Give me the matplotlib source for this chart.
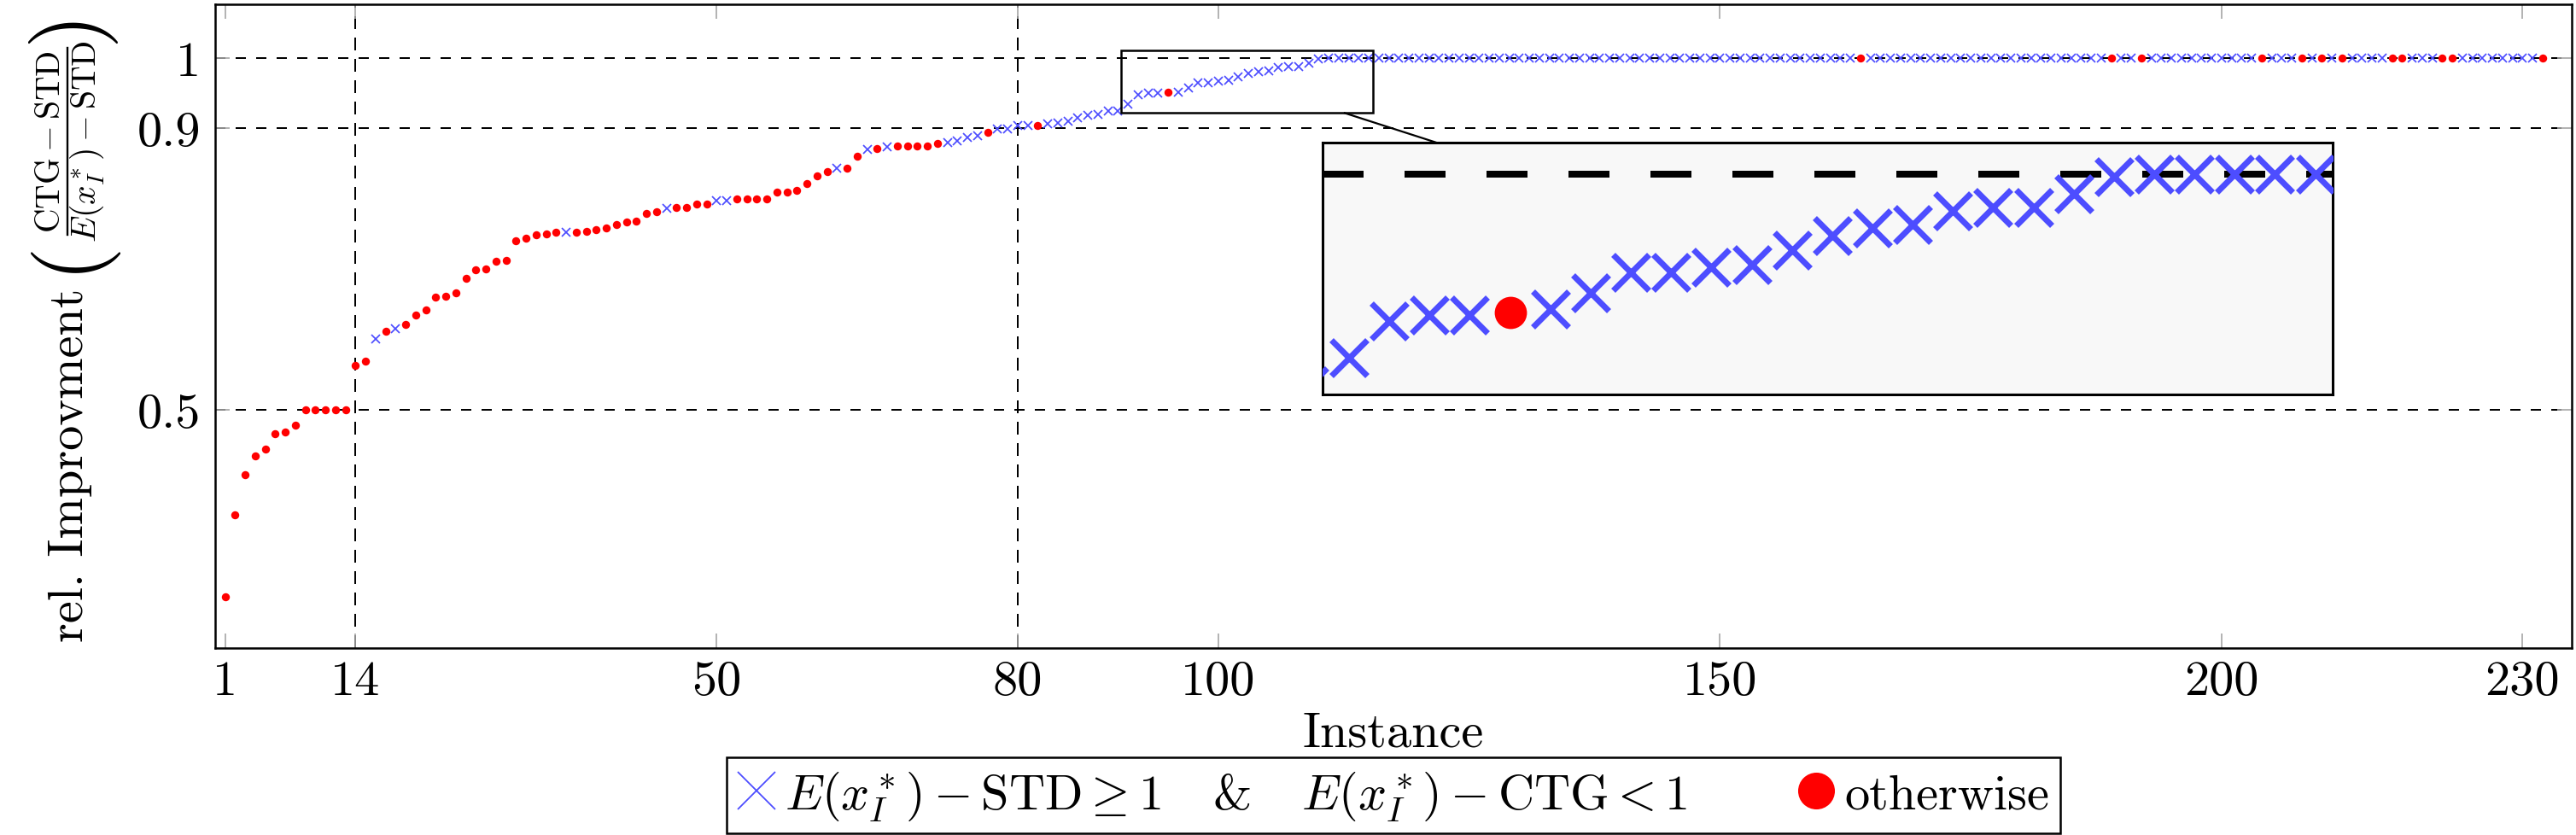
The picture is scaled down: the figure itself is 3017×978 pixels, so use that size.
import numpy as np
import matplotlib
matplotlib.use("Agg")
import matplotlib.pyplot as plt
from matplotlib.lines import Line2D
from matplotlib.patches import Rectangle

plt.rcParams['font.family'] = 'serif'
plt.rcParams['font.serif'] = ['cmr10']
plt.rcParams['mathtext.fontset'] = 'cm'
plt.rcParams['axes.formatter.use_mathtext'] = True
plt.rcParams['axes.unicode_minus'] = False

# ---------------- data ----------------
instance = np.arange(1, 233)

rel_improvement = [
    0.234, 0.350, 0.408, 0.434, 0.444, 0.466, 0.468, 0.478, 0.500, 0.500,
    0.500, 0.500, 0.500, 0.563, 0.569, 0.600, 0.612, 0.615, 0.621, 0.635,
    0.642, 0.660, 0.661, 0.666, 0.687, 0.699, 0.700, 0.711, 0.712, 0.740,
    0.744, 0.749, 0.750, 0.752, 0.752, 0.752, 0.754, 0.756, 0.759, 0.763,
    0.767, 0.768, 0.779, 0.782, 0.786, 0.787, 0.787, 0.792, 0.793, 0.797,
    0.797, 0.800, 0.800, 0.800, 0.800, 0.809, 0.810, 0.812, 0.822, 0.833,
    0.838, 0.843, 0.843, 0.861, 0.870, 0.871, 0.874, 0.875, 0.875, 0.875,
    0.875, 0.879, 0.880, 0.882, 0.887, 0.889, 0.895, 0.899, 0.899, 0.904,
    0.904, 0.904, 0.906, 0.908, 0.910, 0.915, 0.919, 0.920, 0.925, 0.925,
    0.935, 0.948, 0.950, 0.950, 0.951, 0.952, 0.958, 0.965, 0.965, 0.967,
    0.968, 0.973, 0.978, 0.981, 0.982, 0.987, 0.988, 0.988, 0.993, 0.999,
    1.0, 1.0, 1.0, 1.0, 1.0, 1.0, 1.0, 1.0, 1.0, 1.0,
    1.0, 1.0, 1.0, 1.0, 1.0, 1.0, 1.0, 1.0, 1.0, 1.0,
    1.0, 1.0, 1.0, 1.0, 1.0, 1.0, 1.0, 1.0, 1.0, 1.0,
    1.0, 1.0, 1.0, 1.0, 1.0, 1.0, 1.0, 1.0, 1.0, 1.0,
    1.0, 1.0, 1.0, 1.0, 1.0, 1.0, 1.0, 1.0, 1.0, 1.0,
    1.0, 1.0, 1.0, 1.0, 1.0, 1.0, 1.0, 1.0, 1.0, 1.0,
    1.0, 1.0, 1.0, 1.0, 1.0, 1.0, 1.0, 1.0, 1.0, 1.0,
    1.0, 1.0, 1.0, 1.0, 1.0, 1.0, 1.0, 1.0, 1.0, 1.0,
    1.0, 1.0, 1.0, 1.0, 1.0, 1.0, 1.0, 1.0, 1.0, 1.0,
    1.0, 1.0, 1.0, 1.0, 1.0, 1.0, 1.0, 1.0, 1.0, 1.0,
    1.0, 1.0, 1.0, 1.0, 1.0, 1.0, 1.0, 1.0, 1.0, 1.0,
    1.0, 1.0, 1.0, 1.0, 1.0, 1.0, 1.0, 1.0, 1.0, 1.0,
    1.0, 1.0,
]

# instances that are NOT in the "E-STD>=1 & E-CTG<1" class (red dots)
otherwise_instances = [
    1, 2, 3, 4, 5, 6, 7, 8, 9, 10, 11, 12, 13, 14, 15, 17, 19, 20, 21, 22,
    23, 24, 25, 26, 27, 28, 29, 30, 31, 32, 33, 34, 36, 37, 38, 39, 40, 41,
    42, 43, 44, 46, 47, 48, 49, 52, 53, 54, 55, 56, 57, 58, 59, 60, 61, 63,
    64, 66, 68, 69, 70, 71, 72, 77, 82, 95, 164, 189, 192, 204, 208, 210,
    212, 217, 218, 222, 223, 232,
]

x_ticks = [1, 14, 50, 80, 100, 150, 200, 230]
y_ticks = [0.5, 0.9, 1.0]
y_tick_labels = ['0.5', '0.9', '1']
h_ref_lines = [0.5, 0.9, 1.0]
v_ref_lines = [14, 80]

label_cond = (r'$E(x_I^*)-\mathrm{STD}\geq 1$   &   '
              r'$E(x_I^*)-\mathrm{CTG}<1$')
label_other = 'otherwise'
ylabel_text = 'rel. Improvment'
ylabel_num = r'$\mathrm{CTG}-\mathrm{STD}$'
ylabel_den = r'$E(x_I^*)-\mathrm{STD}$'

# ---------------- style ----------------
BLUE = '#4d4dff'
RED = '#ff0000'
FS = 42
W, H = 3017, 979

vals = np.array(rel_improvement)
is_other = np.isin(instance, otherwise_instances)

fig = plt.figure(figsize=(W / 100, H / 100), dpi=100)
ax = fig.add_axes([0.0835, 0.2237, 0.9148, 0.7702])

XLIM = (0.0, 234.9)
YLIM = (0.161, 1.0766)


def px(x, y):
    """figure-fraction coordinates from pixel position (origin top-left)"""
    return x / W, 1 - y / H


def draw_content(a, scale=1.0):
    for y in h_ref_lines:
        a.axhline(y, color='black', lw=1.44 * scale, ls=(0, (6, 6)), zorder=1)
    for x in v_ref_lines:
        a.axvline(x, color='black', lw=1.44 * scale, ls=(0, (7.5, 5)), zorder=1)
    a.plot(instance[~is_other], vals[~is_other], ls='none', marker='x',
           ms=7.5 * scale, mew=1.25 * scale, color=BLUE, zorder=3,
           label=label_cond)
    a.plot(instance[is_other], vals[is_other], ls='none', marker='o',
           ms=6.8 * scale, mew=0, color=RED, zorder=3, label=label_other)


draw_content(ax)
ax.set_xlim(*XLIM)
ax.set_ylim(*YLIM)
ax.set_xticks(x_ticks)
ax.set_xticklabels([str(t) for t in x_ticks])
ax.set_yticks(y_ticks)
ax.set_yticklabels(y_tick_labels)
ax.tick_params(direction='in', length=12, width=1.2, color='0.65',
               top=True, right=True, labelsize=FS, pad=10)
ax.tick_params(axis='y', pad=12)
for s in ax.spines.values():
    s.set_linewidth(1.8)

ax.set_xlabel('Instance', fontsize=FS)
ax.xaxis.set_label_coords(0.5, -0.098)
ax.xaxis.label.set_va('top')

# ---- y label, composed of pieces (rotated, reading bottom to top) ----
rot = dict(rotation=90, rotation_mode='anchor')
fig.text(*px(97, 752), ylabel_text, fontsize=FS, ha='left', va='baseline',
         **rot)
FS_FRAC = FS * 0.68
fig.text(*px(70, 166), ylabel_num, fontsize=FS_FRAC, ha='center',
         va='baseline', **rot)
fig.text(*px(112, 166), ylabel_den, fontsize=FS_FRAC, ha='center',
         va='baseline', **rot)
bx0, by0 = px(79, 57)
bx1, by1 = px(79, 276)
fig.add_artist(Line2D([bx0, bx1], [by0, by1], color='black', lw=1.7,
                      transform=fig.transFigure))
FS_PAREN = 75
fig.text(*px(106, 299), '(', fontsize=FS_PAREN, ha='center', va='baseline',
         **rot)
fig.text(*px(106, 31), ')', fontsize=FS_PAREN, ha='center', va='baseline',
         **rot)

# spy source rectangle
SPY_X = (90.34, 115.43)
SPY_Y = (0.9219, 1.0111)
ax.add_patch(Rectangle((SPY_X[0], SPY_Y[0]), SPY_X[1] - SPY_X[0],
                       SPY_Y[1] - SPY_Y[0], fill=False, ec='black',
                       lw=1.8, zorder=5))

# magnified inset
axins = fig.add_axes([0.5134, 0.5271, 0.3921, 0.3013])
axins.set_facecolor('#f8f8f8')
draw_content(axins, scale=4.0)
axins.set_xlim(*SPY_X)
axins.set_ylim(*SPY_Y)
axins.set_xticks([])
axins.set_yticks([])
for s in axins.spines.values():
    s.set_linewidth(2.2)
axins.set_zorder(6)

# connector between source rectangle and inset (along centre line)
src = ax.transData.transform([(SPY_X[0], SPY_Y[0]), (SPY_X[1], SPY_Y[1])])
dst = axins.transAxes.transform([(0, 0), (1, 1)])
c1 = src.mean(axis=0)
c2 = dst.mean(axis=0)
d = c2 - c1
h1 = (src[1] - src[0]) / 2
h2 = (dst[1] - dst[0]) / 2
t1 = min(abs(h1[0] / d[0]), abs(h1[1] / d[1]))
t2 = min(abs(h2[0] / d[0]), abs(h2[1] / d[1]))
pA = c1 + t1 * d
pB = c2 - t2 * d
inv = fig.transFigure.inverted()
pA, pB = inv.transform(pA), inv.transform(pB)
fig.add_artist(Line2D([pA[0], pB[0]], [pA[1], pB[1]], color='black',
                      lw=1.6, transform=fig.transFigure, zorder=4))

# legend
leg = ax.legend(loc='upper center', bbox_to_anchor=(0.5, -0.1698),
                bbox_transform=ax.transAxes, ncol=2, fontsize=FS,
                frameon=True, fancybox=False, edgecolor='black',
                framealpha=1, borderaxespad=0, borderpad=0.22,
                handlelength=0.75, handletextpad=0.2, columnspacing=2.2)
leg.get_frame().set_linewidth(1.8)
hb, hr = leg.legend_handles
hb.set_markersize(31)
hb.set_markeredgewidth(1.3)
hr.set_markersize(31)

fig.savefig('out.png', dpi=100)
